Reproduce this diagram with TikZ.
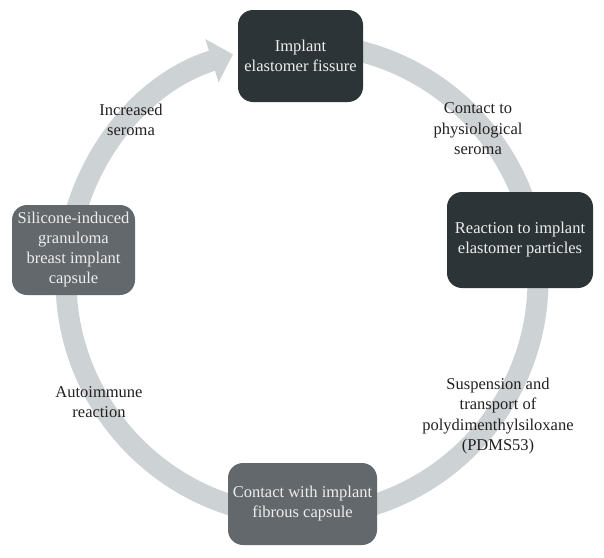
\documentclass[tikz,border=0pt]{standalone}
\usepackage{fontspec}
\setmainfont{Liberation Serif}
\usetikzlibrary{arrows.meta}
\definecolor{darkbox}{HTML}{2C3437}
\definecolor{graybox}{HTML}{62686C}
\definecolor{ringcol}{HTML}{CDD3D4}
\definecolor{boxtext}{HTML}{EEEEEE}
\definecolor{labeltext}{HTML}{231F20}
\begin{document}
\begin{tikzpicture}[x=1pt,y=-1pt,
  stagebox/.style={rounded corners=15pt, inner sep=0pt, align=center,
    text=boxtext, font=\fontsize{16.5}{20}\selectfont},
  darkstage/.style={stagebox, fill=darkbox},
  graystage/.style={stagebox, fill=graybox},
  steplabel/.style={align=center, text=labeltext, font=\fontsize{16.5}{20.5}\selectfont},
  ring/.style={draw=ringcol, line width=21pt, -{Triangle[width=44pt,length=22pt]}}]
\useasboundingbox (0,0) rectangle (604,557);
\coordinate (ringtop) at (302,44);
\draw[ring] (ringtop) arc[start angle=90, end angle=-253, radius=236pt];
\node[darkstage, minimum width=125pt, minimum height=92pt] (top) at (300.5,56) {Implant\\elastomer fissure};
\node[darkstage, minimum width=146pt, minimum height=96pt] (right) at (520,240) {Reaction to implant\\elastomer particles};
\node[graystage, minimum width=149pt, minimum height=82pt] (bottom) at (302.5,504) {Contact with implant\\fibrous capsule};
\node[graystage, minimum width=123pt, minimum height=90pt] (left) at (73.5,250) {Silicone-induced\\granuloma\\breast implant\\capsule};
\node[steplabel] (l1) at (478,129) {Contact to\\physiological\\seroma};
\node[steplabel] (l2) at (498,416) {Suspension and\\transport of\\polydimenthylsiloxane\\(PDMS53)};
\node[steplabel] (l3) at (99,402) {Autoimmune\\reaction};
\node[steplabel] (l4) at (131,120) {Increased\\seroma};
\end{tikzpicture}
\end{document}
